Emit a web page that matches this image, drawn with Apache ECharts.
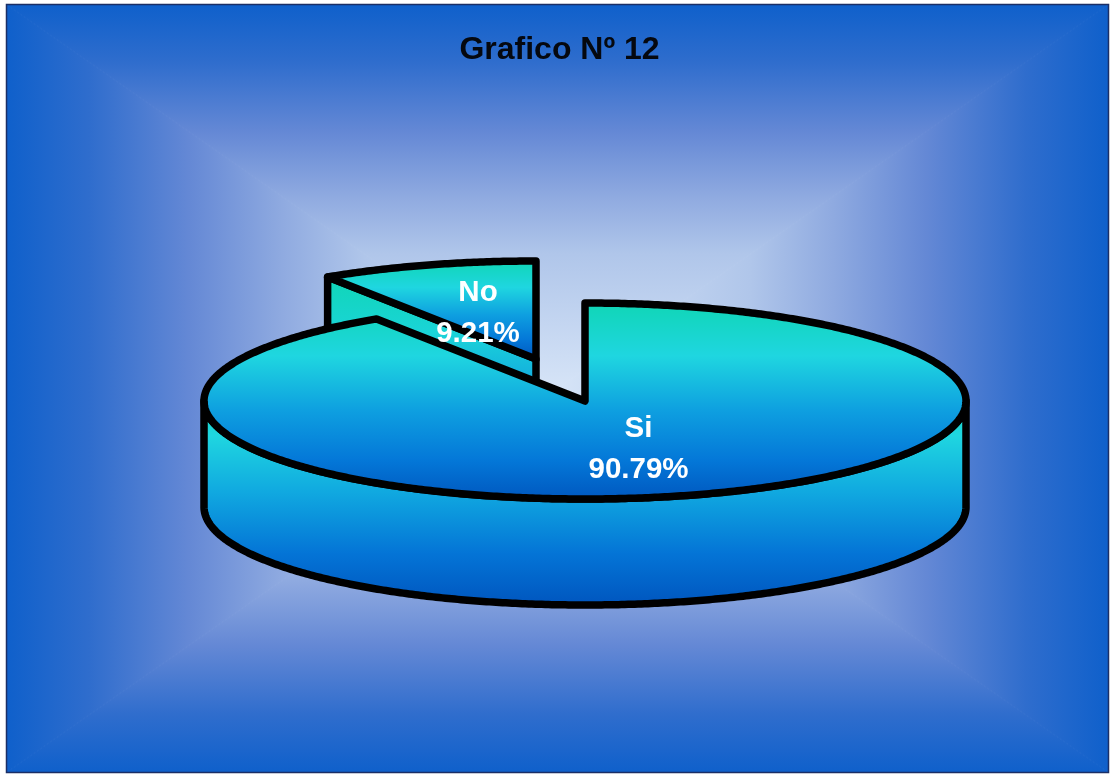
<!DOCTYPE html>
<html><head><meta charset="utf-8">
<style>html,body{margin:0;padding:0;background:#fff}#c{width:1112px;height:774px}</style>
<script src="https://cdn.jsdelivr.net/npm/echarts@6/dist/echarts.min.js"></script>
</head><body><div id="c"></div>
<script>
const chartTitle = 'Grafico Nº 12';
const categories = ['Si', 'No'];
const values = [90.79, 9.21];

const FONT = '"Liberation Sans", Arial, sans-serif';
const frame = {x: 6.5, y: 4.5, w: 1102, h: 768};
const pie = {cx: 585, cy: 401, rx: 381, ry: 98, depth: 106, line: 7.5};
const explode = {No: [-49, -42]};
const labelPos = {Si: [638.5, 449], No: [478, 313.5]};
const faceStops = [[0, '#10d6b6'], [0.27, '#1fd6e0'], [0.55, '#0e9fe0'], [0.8, '#0478d8'], [1, '#0058c0']];
const sideStops = [[0, '#12d8c4'], [0.17, '#1fd6e0'], [0.45, '#10a8e0'], [0.75, '#0474d6'], [1, '#0056bf']];
const cutStops = [[0, '#10d6b6'], [0.3, '#1ad4d8'], [0.6, '#12a6e0'], [1, '#0470d4']];
const bgStops = [[0, '#0f60cb'], [0.15, '#2f6dcd'], [0.33, '#6488d5'], [0.5, '#8faae0'], [0.65, '#b0c6ea'], [1, '#d6e4f7']];

const total = values.reduce((a, b) => a + b, 0);
const rad = d => d * Math.PI / 180;
const pt = (c, a, dy) => [c[0] + pie.rx * Math.sin(rad(a)), c[1] - pie.ry * Math.cos(rad(a)) + (dy || 0)];
const arc = (c, a0, a1, dy) => {
  const out = [], n = Math.max(2, Math.ceil(Math.abs(a1 - a0) * 2));
  for (let i = 0; i <= n; i++) out.push(pt(c, a0 + (a1 - a0) * i / n, dy));
  return out;
};
const grad = (y0, y1, stops) => new echarts.graphic.LinearGradient(0, y0, 0, y1,
  stops.map(s => ({offset: s[0], color: s[1]})), true);
const stroke = {stroke: '#000', lineWidth: pie.line, lineJoin: 'round'};

function renderItem(params, api) {
  const i = params.dataIndex, name = categories[i];
  let start = 0;
  for (let k = 0; k < i; k++) start += values[k];
  const a0 = start / total * 360, a1 = (start + values[i]) / total * 360;
  const off = explode[name] || [0, 0];
  const c = [pie.cx + off[0], pie.cy + off[1]];
  const base = i === 0 ? 10 : 2;
  const kids = [];
  if (a0 > 270) {
    const p = pt(c, a0);
    kids.push({type: 'polygon', z2: base, shape: {points: [p, c, [c[0], c[1] + pie.depth], [p[0], p[1] + pie.depth]]},
      style: Object.assign({fill: grad(p[1], c[1] + pie.depth, cutStops)}, stroke)});
  }
  const r0 = Math.max(a0, 90), r1 = Math.min(a1, 270);
  if (r1 > r0) {
    const pts = arc(c, r0, r1, 0).concat(arc(c, r1, r0, pie.depth));
    kids.push({type: 'polygon', z2: base + 1, shape: {points: pts},
      style: Object.assign({fill: grad(c[1], c[1] + pie.ry + pie.depth, sideStops)}, stroke)});
  }
  const top = [c].concat(arc(c, a0, a1, 0));
  kids.push({type: 'polygon', z2: base + 2, shape: {points: top},
    style: Object.assign({fill: grad(c[1] - pie.ry, c[1] + (a1 - a0 > 180 ? pie.ry : 0), faceStops)}, stroke)});
  kids.push({type: 'text', z2: 30, style: {
    x: labelPos[name][0], y: labelPos[name][1], text: name + '\n' + values[i].toFixed(2) + '%',
    fill: '#fff', font: 'bold 29.5px ' + FONT, lineHeight: 41, align: 'center', verticalAlign: 'middle'}});
  return {type: 'group', children: kids};
}

const f = frame, mx = f.x + f.w / 2, my = f.y + f.h / 2;
const corners = {tl: [f.x, f.y], tr: [f.x + f.w, f.y], br: [f.x + f.w, f.y + f.h], bl: [f.x, f.y + f.h]};
const tri = (a, b, x0, y0, x1, y1) => {
  const g = new echarts.graphic.LinearGradient(x0, y0, x1, y1,
    bgStops.map(s => ({offset: s[0], color: s[1]})), true);
  return {type: 'polygon', z: -2, silent: true, shape: {points: [a, b, [mx, my]]},
    style: {fill: g, stroke: g, lineWidth: 1}};
};

const chart = echarts.init(document.getElementById('c'), null, {renderer: 'canvas'});
chart.setOption({
  animation: false,
  backgroundColor: '#fff',
  title: {text: chartTitle, left: 554.5, top: 29, textAlign: 'center',
    textStyle: {color: '#05080f', fontFamily: FONT, fontWeight: 'bold', fontSize: 32}},
  graphic: [
    tri(corners.tl, corners.tr, 0, f.y, 0, my),
    tri(corners.bl, corners.br, 0, f.y + f.h, 0, my),
    tri(corners.tl, corners.bl, f.x, 0, mx, 0),
    tri(corners.tr, corners.br, f.x + f.w, 0, mx, 0),
    {type: 'rect', z: -1, silent: true, shape: {x: f.x, y: f.y, width: f.w, height: f.h},
      style: {fill: 'none', stroke: '#1b2f66', lineWidth: 1.5}}
  ],
  series: [{
    type: 'custom', coordinateSystem: 'none', renderItem, silent: true,
    data: categories.map((n, i) => ({name: n, value: values[i]}))
  }]
});
</script></body></html>
